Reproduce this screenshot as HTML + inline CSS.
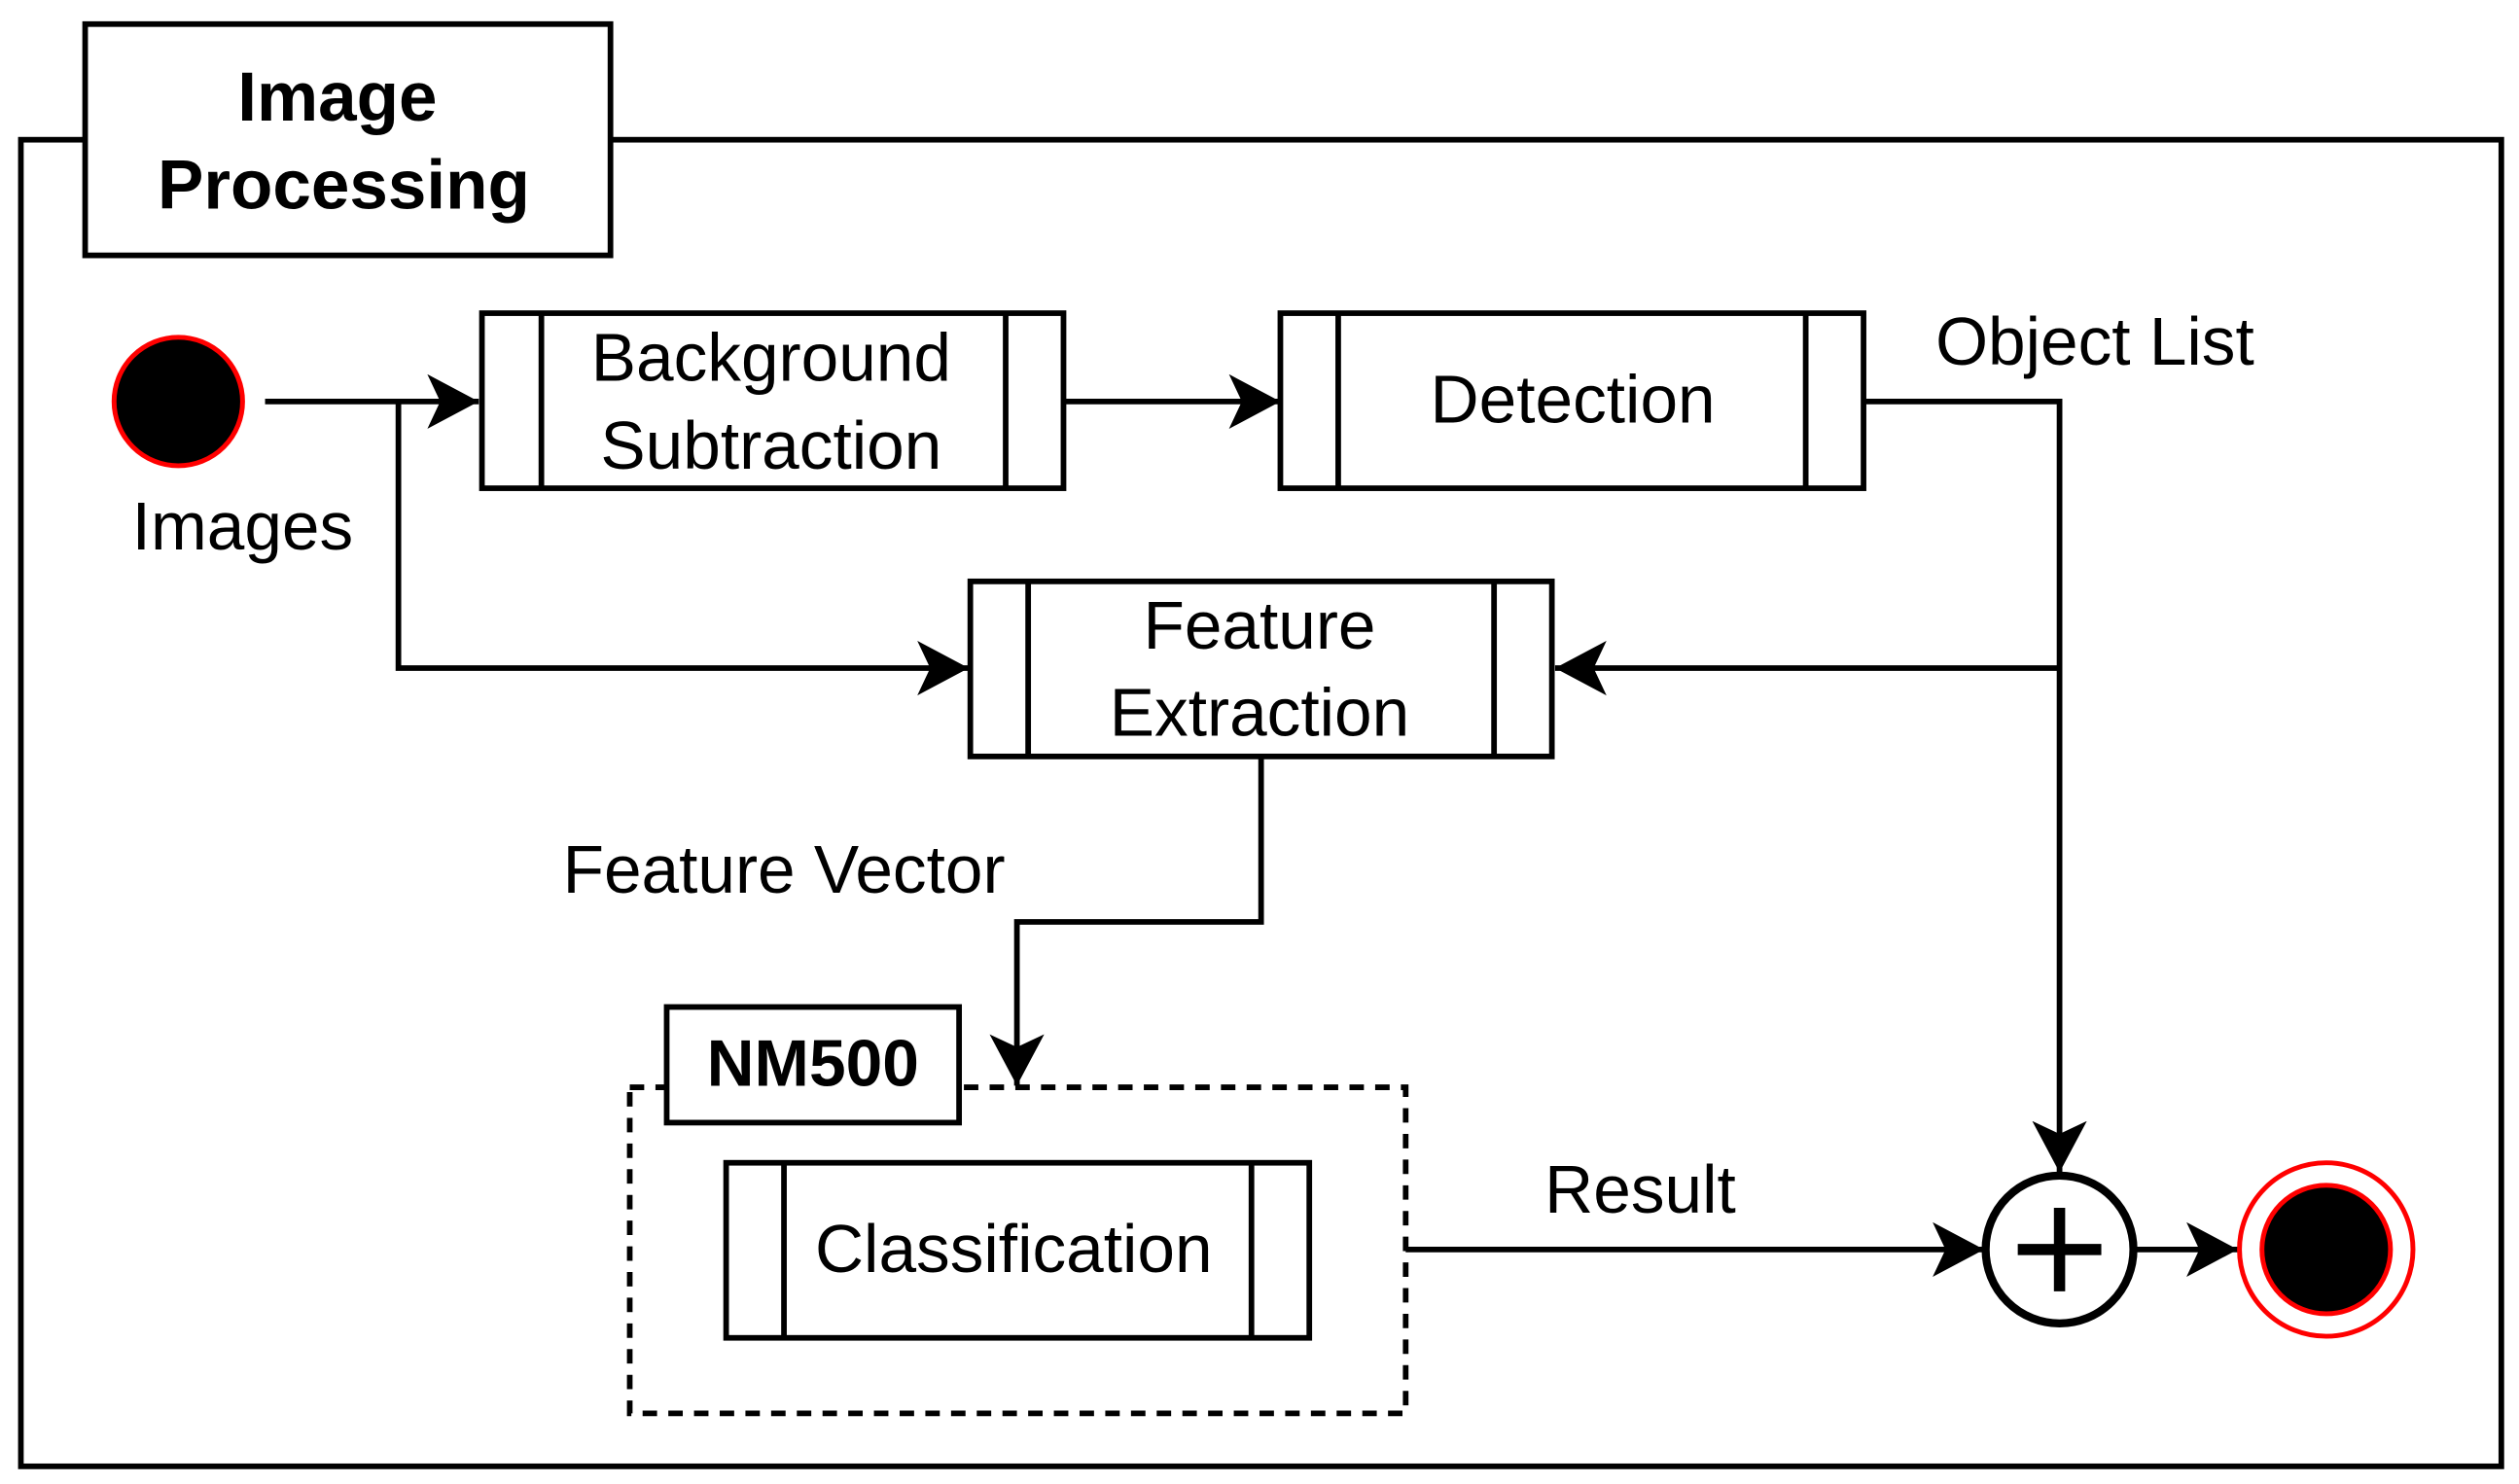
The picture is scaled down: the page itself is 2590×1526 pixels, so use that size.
<!DOCTYPE html>
<html><head><meta charset="utf-8"><style>html,body{margin:0;padding:0;background:#fff}svg{display:block}</style></head>
<body>
<svg width="2590" height="1526" viewBox="0 0 1568 924" preserveAspectRatio="none" xmlns="http://www.w3.org/2000/svg" font-family="Liberation Sans, Arial, sans-serif">
<defs>
<marker id="a" markerWidth="34" markerHeight="34" refX="32" refY="17" orient="auto" markerUnits="userSpaceOnUse">
<path d="M0,0 L32,17 L0,34 L8,17 Z" fill="#000"/>
</marker>
</defs>
<g fill="none" stroke="#000" stroke-width="3.5">
<rect x="13" y="87" width="1544" height="826"/>
</g>
<rect x="53" y="15" width="327" height="144" fill="#fff" stroke="#000" stroke-width="3.5"/>
<g font-weight="bold" font-size="43" text-anchor="middle">
<text x="210" y="75">Image</text>
<text x="214" y="130">Processing</text>
</g>
<circle cx="111" cy="250" r="40" fill="#000" stroke="#f00" stroke-width="3"/>
<text x="151" y="342" font-size="42" text-anchor="middle">Images</text>
<g fill="none" stroke="#000" stroke-width="3.5">
<path d="M165,250 H298" marker-end="url(#a)"/>
<path d="M248,250 V416 H603" marker-end="url(#a)"/>
<path d="M662,250 H797" marker-end="url(#a)"/>
<path d="M1160,250 H1282 V730" marker-end="url(#a)"/>
<path d="M1282,416 H968" marker-end="url(#a)"/>
<path d="M785,471 V574 H633 V676" marker-end="url(#a)"/>
<path d="M875,778 H1235" marker-end="url(#a)"/>
<path d="M1329,778 H1393" marker-end="url(#a)"/>
<rect x="300" y="195" width="362" height="109"/>
<path d="M337,195 V304 M626,195 V304"/>
<rect x="797" y="195" width="363" height="109"/>
<path d="M833,195 V304 M1124,195 V304"/>
<rect x="604" y="362" width="362" height="109"/>
<path d="M640,362 V471 M930,362 V471"/>
<rect x="392" y="677" width="483" height="203" stroke-dasharray="9,7"/>
<rect x="452" y="724" width="363" height="109"/>
<path d="M488,724 V833 M779,724 V833"/>
</g>
<rect x="415" y="627" width="182" height="72" fill="#fff" stroke="#000" stroke-width="3.5"/>
<text x="506" y="676" font-size="41" font-weight="bold" text-anchor="middle">NM500</text>
<g font-size="42" text-anchor="middle">
<text x="480" y="237">Background</text>
<text x="480" y="292">Subtraction</text>
<text x="979" y="263">Detection</text>
<text x="784" y="404">Feature</text>
<text x="784" y="458">Extraction</text>
<text x="631" y="792">Classification</text>
<text x="1304" y="227">Object List</text>
<text x="488" y="556">Feature Vector</text>
<text x="1021" y="755">Result</text>
</g>
<circle cx="1282" cy="778" r="46" fill="#fff" stroke="#000" stroke-width="5"/>
<path d="M1282,752 V804 M1256,778 H1308" stroke="#000" stroke-width="7"/>
<circle cx="1448" cy="778" r="54" fill="#fff" stroke="#f00" stroke-width="3"/>
<circle cx="1448" cy="778" r="40" fill="#000" stroke="#f00" stroke-width="3"/>
</svg>
</body></html>
